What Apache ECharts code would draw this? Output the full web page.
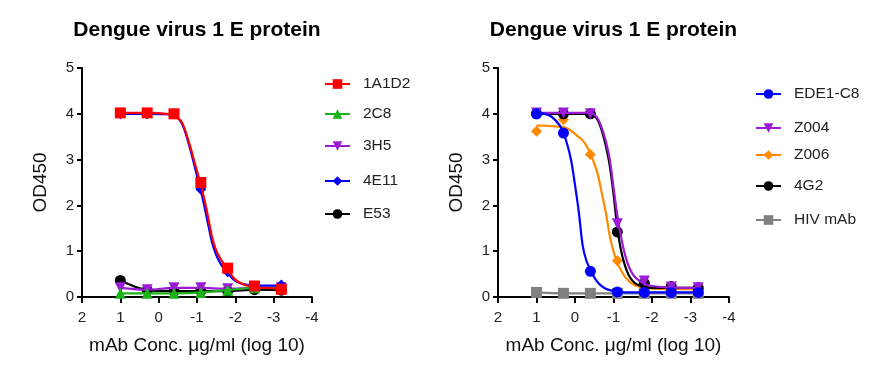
<!DOCTYPE html>
<html>
<head>
<meta charset="utf-8">
<script src="https://cdn.jsdelivr.net/npm/echarts@6/dist/echarts.min.js"></script>
<style>
html,body{margin:0;padding:0;background:#fff;}
#chart{width:890px;height:375px;}
</style>
</head>
<body>
<div id="chart"></div>
<script>
// ---------- DATA ----------
const titleText = 'Dengue virus 1 E protein';
const xAxisTitle = 'mAb Conc. \u03bcg/ml (log 10)';
const yAxisTitle = 'OD450';
const xTicks = [2, 1, 0, -1, -2, -3, -4];
const yTicks = [0, 1, 2, 3, 4, 5];

// measured concentrations (log10 µg/ml)
const concLog = [1, 0.3, -0.4, -1.1, -1.8, -2.5, -3.2];

// left panel: measured OD450
const leftNames = ['1A1D2', '2C8', '3H5', '4E11', 'E53'];
const od_1A1D2 = [4.02, 4.02, 4.0, 2.5, 0.63, 0.24, 0.17];
const od_2C8  = [0.08, 0.08, 0.08, 0.1, 0.15, 0.2, 0.2];
const od_3H5  = [0.2, 0.16, 0.2, 0.2, 0.18, 0.2, 0.2];
const od_4E11 = [4.0, 4.0, 4.0, 2.35, 0.55, 0.24, 0.26];
const od_E53  = [0.36, 0.15, 0.13, 0.13, 0.13, 0.16, 0.15];

// left panel: fitted curves
const leftFitX = [1, 0.6, 0.2, -0.2, -0.4, -0.6, -0.8, -0.9, -1.0, -1.1, -1.2, -1.3, -1.4, -1.5, -1.6, -1.7, -1.8, -2.0, -2.2, -2.4, -2.7, -3.0, -3.2];
const fit_1A1D2 = [4.02, 4.02, 4.02, 4.0, 3.97, 3.82, 3.35, 3.05, 2.75, 2.45, 2.1, 1.7, 1.28, 1.02, 0.85, 0.72, 0.6, 0.38, 0.28, 0.23, 0.2, 0.19, 0.18];
const fit_4E11  = [4.0, 4.0, 4.0, 3.99, 3.96, 3.8, 3.3, 2.98, 2.65, 2.33, 1.95, 1.55, 1.17, 0.92, 0.75, 0.62, 0.52, 0.35, 0.28, 0.26, 0.25, 0.25, 0.25];

// right panel: measured OD450
const rightNames = ['EDE1-C8', 'Z004', 'Z006', '4G2', 'HIV mAb'];
const od_EDE1 = [4.0, 3.58, 0.56, 0.11, 0.1, 0.1, 0.1];
const od_Z004 = [4.02, 4.02, 4.0, 1.6, 0.35, 0.22, 0.2];
const od_Z006 = [3.62, 3.87, 3.11, 0.79, 0.2, 0.16, 0.16];
const od_4G2  = [4.0, 4.0, 4.0, 1.42, 0.3, 0.23, 0.2];
const od_HIV  = [0.1, 0.08, 0.08, 0.08, 0.08, 0.08, 0.08];

// right panel: fitted curves
const rightFitX = [1, 0.8, 0.6, 0.4, 0.3, 0.2, 0.1, 0, -0.1, -0.2, -0.3, -0.4, -0.5, -0.6, -0.7, -0.8, -0.9, -1.0, -1.1, -1.2, -1.3, -1.4, -1.5, -1.6, -1.8, -2.0, -2.4, -2.8, -3.2];
const fit_EDE1 = [4.02, 4.0, 3.93, 3.75, 3.58, 3.33, 2.98, 2.45, 1.85, 1.12, 0.78, 0.6, 0.43, 0.31, 0.23, 0.18, 0.15, 0.13, 0.12, 0.11, 0.1, 0.1, 0.1, 0.1, 0.1, 0.1, 0.1, 0.1, 0.1];
const fit_Z004 = [4.02, 4.02, 4.02, 4.02, 4.02, 4.02, 4.02, 4.02, 4.02, 4.02, 4.02, 4.02, 3.98, 3.88, 3.68, 3.4, 3.02, 2.4, 1.78, 1.3, 0.92, 0.66, 0.5, 0.4, 0.29, 0.24, 0.21, 0.2, 0.2];
const fit_Z006 = [3.74, 3.74, 3.73, 3.72, 3.71, 3.68, 3.63, 3.56, 3.49, 3.42, 3.3, 3.13, 2.92, 2.65, 2.25, 1.85, 1.35, 1.0, 0.74, 0.58, 0.44, 0.35, 0.28, 0.24, 0.2, 0.18, 0.17, 0.17, 0.17];
const fit_4G2  = [4.0, 4.0, 4.0, 4.0, 4.0, 4.0, 4.0, 4.0, 4.0, 4.0, 4.0, 4.0, 3.96, 3.85, 3.62, 3.3, 2.88, 2.25, 1.5, 1.0, 0.68, 0.47, 0.35, 0.28, 0.22, 0.2, 0.2, 0.2, 0.2];

// ---------- BUILD ----------
const FONT = '"Liberation Sans", Arial, sans-serif';
const pair = (xs, ys) => xs.map((x, i) => [x, ys[i]]);

function measure(text, font) {
  const c = document.createElement('canvas').getContext('2d');
  c.font = font;
  return c.measureText(text).width;
}

const grids = [
  {left: 82, top: 68, width: 230, height: 229},
  {left: 498, top: 68, width: 231, height: 229}
];

function xAxis(gi) {
  return {
    type: 'value', gridIndex: gi, min: -4, max: 2, interval: 1, inverse: true,
    name: xAxisTitle, nameLocation: 'middle', nameGap: 39,
    nameTextStyle: {fontFamily: FONT, fontSize: 19, color: '#111'},
    axisLine: {lineStyle: {color: '#000', width: 2}},
    axisTick: {length: 6, lineStyle: {color: '#000', width: 2}},
    axisLabel: {fontFamily: FONT, fontSize: 15, color: '#222', margin: 13},
    splitLine: {show: false}
  };
}
function yAxis(gi) {
  return {
    type: 'value', gridIndex: gi, min: 0, max: 5, interval: 1,
    name: yAxisTitle, nameLocation: 'middle', nameGap: 32, nameRotate: 90,
    nameTextStyle: {fontFamily: FONT, fontSize: 19, color: '#111'},
    axisLine: {show: true, onZero: false, lineStyle: {color: '#000', width: 2}},
    axisTick: {show: true, length: 5, lineStyle: {color: '#000', width: 2}},
    axisLabel: {fontFamily: FONT, fontSize: 15, color: '#222', margin: 8},
    splitLine: {show: false}
  };
}

function curve(name, xs, ys, color, symbol, rot, gi, z) {
  return {
    type: 'line', name: name, xAxisIndex: gi, yAxisIndex: gi,
    data: pair(xs, ys), smooth: 0.35, showSymbol: false,
    symbol: symbol, symbolRotate: rot, symbolSize: 10,
    lineStyle: {color: color, width: 2.2}, itemStyle: {color: color},
    z: z, silent: true
  };
}
function points(name, ys, color, symbol, rot, size, gi, z) {
  return {
    type: 'scatter', name: name, xAxisIndex: gi, yAxisIndex: gi,
    data: pair(concLog, ys), symbol: symbol, symbolRotate: rot, symbolSize: size,
    itemStyle: {color: color, opacity: 1}, z: z
  };
}
function linePoints(name, ys, color, symbol, rot, size, gi, z) {
  return {
    type: 'line', name: name, xAxisIndex: gi, yAxisIndex: gi,
    data: pair(concLog, ys), smooth: 0.3, showSymbol: true, showAllSymbol: true,
    symbol: symbol, symbolRotate: rot, symbolSize: size,
    lineStyle: {color: color, width: 2.2}, itemStyle: {color: color, opacity: 1}, z: z
  };
}

const C = {
  red: '#ff0000', green: '#19b219', purple: '#9a1ad6', blue: '#0000ff', black: '#000000',
  orange: '#ff8a00', grey: '#808080'
};

const series = [
  // left panel
  linePoints('E53', od_E53, C.black, 'circle', 0, 11, 0, 2),
  linePoints('3H5', od_3H5, C.purple, 'triangle', 180, 11, 0, 3),
  linePoints('2C8', od_2C8, C.green, 'triangle', 0, 11, 0, 4),
  curve('4E11', leftFitX, fit_4E11, C.blue, 'diamond', 0, 0, 5),
  points('4E11', od_4E11, C.blue, 'diamond', 0, 11, 0, 6),
  curve('1A1D2', leftFitX, fit_1A1D2, C.red, 'rect', 0, 0, 7),
  points('1A1D2', od_1A1D2, C.red, 'rect', 0, 11, 0, 8),
  // right panel
  linePoints('HIV mAb', od_HIV, C.grey, 'rect', 0, 11, 1, 2),
  curve('Z006', rightFitX, fit_Z006, C.orange, 'diamond', 0, 1, 3),
  points('Z006', od_Z006, C.orange, 'diamond', 0, 11, 1, 4),
  curve('4G2', rightFitX, fit_4G2, C.black, 'circle', 0, 1, 5),
  points('4G2', od_4G2, C.black, 'circle', 0, 11, 1, 6),
  curve('Z004', rightFitX, fit_Z004, C.purple, 'triangle', 180, 1, 7),
  points('Z004', od_Z004, C.purple, 'triangle', 180, 11, 1, 8),
  curve('EDE1-C8', rightFitX, fit_EDE1, C.blue, 'circle', 0, 1, 9),
  points('EDE1-C8', od_EDE1, C.blue, 'circle', 0, 11, 1, 10)
];

// legends: one per entry to match the uneven row spacing
const leftRows = [84, 114, 146, 181, 214];
const rightRows = [94, 128, 155, 186, 220];
function legendItem(name, x, y) {
  return {
    data: [name], left: x, top: y - 8, orient: 'vertical', padding: 0,
    itemWidth: 25, itemHeight: 12, selectedMode: false,
    textStyle: {fontFamily: FONT, fontSize: 15.5, color: '#222', padding: [0, 0, 0, 8]}
  };
}
const legends = [];
leftNames.forEach((n, i) => legends.push(legendItem(n, 324, leftRows[i])));
rightNames.forEach((n, i) => legends.push(legendItem(n, 755, rightRows[i])));

const titleSize = 21;
const titleFont = 'bold ' + titleSize + 'px "Liberation Sans"';
const tw = measure(titleText, titleFont);
const titles = [
  {text: titleText, left: 197 - tw / 2, top: 20, padding: 0,
   textStyle: {fontFamily: FONT, fontSize: titleSize, fontWeight: 'bold', color: '#000'}},
  {text: titleText, left: 613.5 - tw / 2, top: 20, padding: 0,
   textStyle: {fontFamily: FONT, fontSize: titleSize, fontWeight: 'bold', color: '#000'}}
];

const chart = echarts.init(document.getElementById('chart'), null, {renderer: 'canvas'});
chart.setOption({
  animation: false,
  backgroundColor: '#ffffff',
  title: titles,
  legend: legends,
  grid: grids,
  xAxis: [xAxis(0), xAxis(1)],
  yAxis: [yAxis(0), yAxis(1)],
  series: series
});
</script>
</body>
</html>
